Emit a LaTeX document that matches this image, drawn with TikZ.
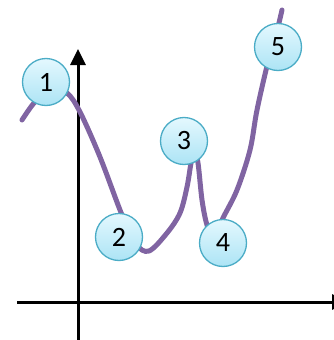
\documentclass[tikz,border=0pt]{standalone}
\usepackage{fontspec}
\setmainfont{Carlito}
\usetikzlibrary{arrows.meta}
\definecolor{plotpurple}{HTML}{8064A2}
\definecolor{bubbleedge}{HTML}{4BACC6}
\definecolor{bubbletop}{HTML}{E4F8FE}
\definecolor{bubblebottom}{HTML}{ACE4F5}

\begin{document}
\begin{tikzpicture}[
    x=1pt, y=-1pt,
    axis/.style={draw=black, line width=3pt, -{Triangle[width=15pt,length=16pt]}},
    curve/.style={draw=plotpurple, line width=5pt, line cap=round},
    bubble/.style={circle, draw=bubbleedge, line width=1.3pt, minimum size=47pt, inner sep=0pt,
        top color=bubbletop, bottom color=bubblebottom, font=\fontsize{28}{28}\selectfont}
]
\useasboundingbox (0,0) rectangle (334,340);

% axes
\draw[axis] (17,302) -- (348,302);
\draw[axis] (78,345) -- (78,49);

% the curve
\draw[curve] plot[smooth, tension=0.55] coordinates {
    (22,120) (34,103) (50,88) (67,93) (80,112) (100,157) (122,215)
    (136,244) (149,251) (167,233) (180,213) (187,187) (191,163) (194,150)
    (198,163) (202,200) (207,225) (214,238) (223,218) (237,190) (250,150)
    (257,110) (268,62) (276,35) (282,10)};

% numbered bubbles
\node[bubble] (n1) at (46,82) {1};
\node[bubble] (n2) at (119,237) {2};
\node[bubble] (n3) at (184,141) {3};
\node[bubble] (n4) at (223,243) {4};
\node[bubble] (n5) at (278,47) {5};

\end{tikzpicture}
\end{document}
